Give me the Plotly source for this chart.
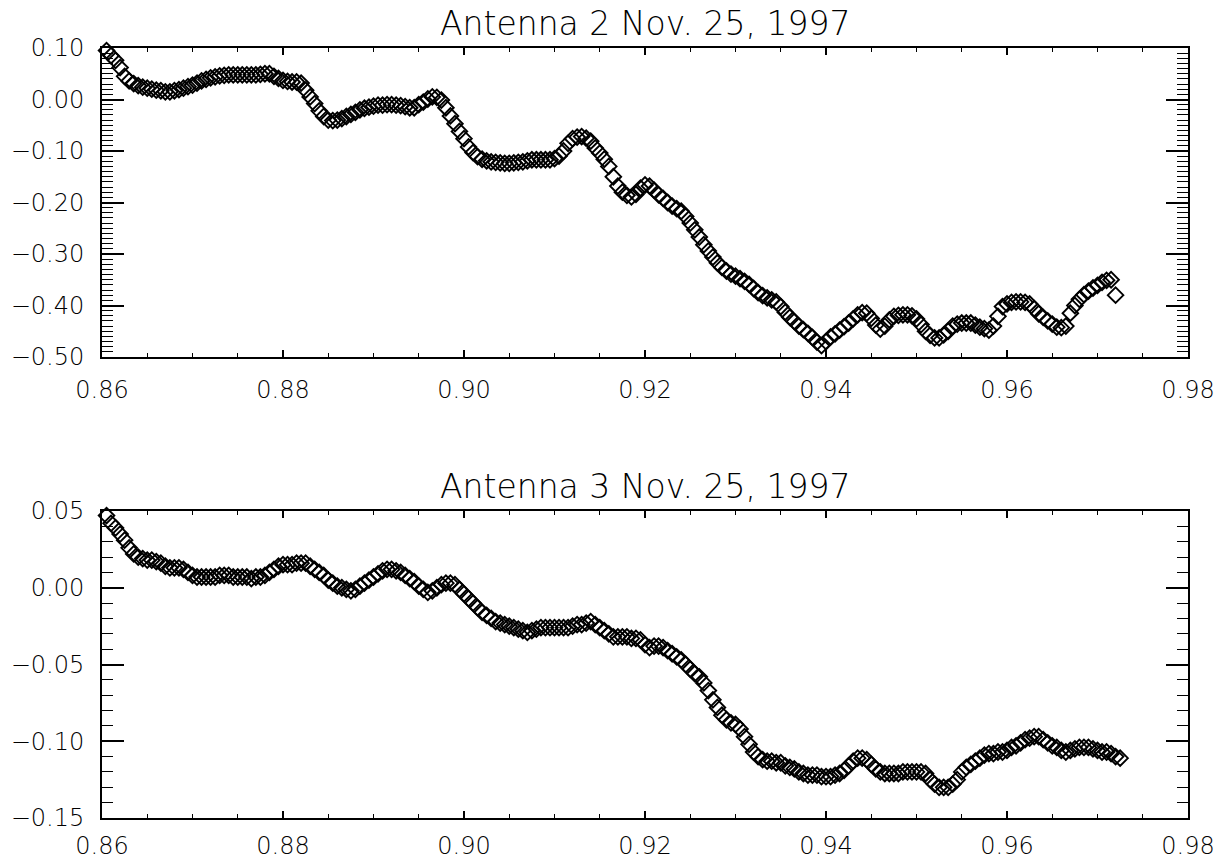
import numpy as np
import plotly.graph_objects as go

# ---- data ----
X_START = 0.8605
X_STEP = 0.0005

antenna2 = [
    0.095, 0.085, 0.076, 0.062, 0.045, 0.036, 0.031, 0.027, 0.024, 0.022,
    0.020, 0.018, 0.017, 0.015, 0.015, 0.017, 0.019, 0.022, 0.025, 0.028,
    0.032, 0.036, 0.039, 0.042, 0.044, 0.046, 0.047, 0.048, 0.048, 0.048,
    0.048, 0.048, 0.048, 0.048, 0.049, 0.050, 0.050, 0.045, 0.041, 0.037,
    0.035, 0.034, 0.034, 0.032, 0.018, 0.005, -0.008, -0.022, -0.033, -0.040,
    -0.041, -0.040, -0.037, -0.033, -0.029, -0.025, -0.020, -0.017, -0.015, -0.013,
    -0.011, -0.011, -0.010, -0.010, -0.011, -0.012, -0.014, -0.016, -0.016, -0.010,
    -0.005, 0.001, 0.005, 0.004, -0.001, -0.016, -0.032, -0.047, -0.062, -0.076,
    -0.092, -0.103, -0.111, -0.116, -0.119, -0.121, -0.122, -0.123, -0.124, -0.124,
    -0.123, -0.122, -0.121, -0.119, -0.117, -0.117, -0.117, -0.117, -0.117, -0.115,
    -0.110, -0.100, -0.085, -0.076, -0.073, -0.072, -0.075, -0.081, -0.094, -0.104,
    -0.116, -0.130, -0.150, -0.168, -0.180, -0.186, -0.189, -0.184, -0.172, -0.166,
    -0.168, -0.176, -0.185, -0.192, -0.200, -0.207, -0.212, -0.217, -0.227, -0.240,
    -0.253, -0.267, -0.282, -0.294, -0.306, -0.317, -0.326, -0.333, -0.339, -0.343,
    -0.348, -0.353, -0.359, -0.367, -0.375, -0.381, -0.385, -0.389, -0.393, -0.402,
    -0.413, -0.423, -0.431, -0.440, -0.447, -0.454, -0.462, -0.471, -0.478, -0.470,
    -0.461, -0.455, -0.448, -0.441, -0.434, -0.426, -0.418, -0.414, -0.415, -0.425,
    -0.438, -0.446, -0.440, -0.428, -0.421, -0.419, -0.418, -0.418, -0.420, -0.426,
    -0.437, -0.450, -0.458, -0.463, -0.463, -0.457, -0.450, -0.440, -0.436, -0.434,
    -0.434, -0.434, -0.438, -0.442, -0.445, -0.448, -0.440, -0.421, -0.402, -0.397,
    -0.394, -0.393, -0.393, -0.394, -0.397, -0.406, -0.416, -0.423, -0.430, -0.436,
    -0.442, -0.443, -0.440, -0.415, -0.400, -0.388, -0.379, -0.372, -0.366, -0.361,
    -0.355, -0.351, -0.350, -0.380,
]

antenna3 = [
    0.047, 0.042, 0.039, 0.035, 0.031, 0.026, 0.022, 0.020, 0.019, 0.018,
    0.018, 0.017, 0.016, 0.014, 0.013, 0.013, 0.013, 0.012, 0.010, 0.008,
    0.007, 0.007, 0.007, 0.007, 0.007, 0.008, 0.008, 0.008, 0.007, 0.007,
    0.007, 0.007, 0.006, 0.007, 0.007, 0.008, 0.010, 0.012, 0.014, 0.015,
    0.015, 0.015, 0.016, 0.016, 0.016, 0.014, 0.012, 0.010, 0.008, 0.005,
    0.003, 0.001, 0.000, -0.001, -0.002, -0.001, 0.001, 0.003, 0.005, 0.007,
    0.009, 0.011, 0.012, 0.012, 0.011, 0.010, 0.008, 0.006, 0.004, 0.001,
    -0.001, -0.003, -0.002, 0.000, 0.002, 0.003, 0.003, 0.002, -0.001, -0.004,
    -0.007, -0.010, -0.013, -0.016, -0.018, -0.020, -0.022, -0.023, -0.024, -0.025,
    -0.026, -0.027, -0.028, -0.029, -0.028, -0.027, -0.026, -0.026, -0.026, -0.026,
    -0.026, -0.026, -0.026, -0.025, -0.024, -0.024, -0.023, -0.022, -0.024, -0.026,
    -0.028, -0.030, -0.032, -0.032, -0.032, -0.032, -0.033, -0.033, -0.034, -0.037,
    -0.039, -0.038, -0.038, -0.039, -0.041, -0.043, -0.045, -0.047, -0.050, -0.053,
    -0.056, -0.058, -0.062, -0.067, -0.073, -0.078, -0.083, -0.086, -0.088, -0.089,
    -0.092, -0.097, -0.102, -0.107, -0.110, -0.112, -0.113, -0.113, -0.114, -0.114,
    -0.116, -0.117, -0.118, -0.120, -0.121, -0.122, -0.122, -0.122, -0.123, -0.123,
    -0.123, -0.122, -0.121, -0.119, -0.116, -0.113, -0.111, -0.111, -0.112, -0.115,
    -0.118, -0.120, -0.121, -0.121, -0.121, -0.121, -0.120, -0.120, -0.120, -0.120,
    -0.120, -0.121, -0.125, -0.128, -0.130, -0.130, -0.130, -0.128, -0.125, -0.120,
    -0.117, -0.115, -0.113, -0.111, -0.109, -0.108, -0.108, -0.107, -0.107, -0.106,
    -0.104, -0.103, -0.101, -0.099, -0.098, -0.097, -0.097, -0.099, -0.101, -0.103,
    -0.104, -0.106, -0.107, -0.106, -0.105, -0.104, -0.104, -0.104, -0.105, -0.106,
    -0.107, -0.107, -0.108, -0.110, -0.111,
]

x_ticks = [0.86, 0.88, 0.90, 0.92, 0.94, 0.96, 0.98]
y_ticks_top = [0.10, 0.00, -0.10, -0.20, -0.30, -0.40, -0.50]
y_ticks_bottom = [0.05, 0.00, -0.05, -0.10, -0.15]
titles = ["Antenna 2 Nov. 25, 1997", "Antenna 3 Nov. 25, 1997"]

x_top = np.round(X_START + X_STEP * np.arange(len(antenna2)), 4)
x_bot = np.round(X_START + X_STEP * np.arange(len(antenna3)), 4)

FONT = "DejaVu Sans"
tickfont = dict(family=FONT, size=24, color="black", weight=300)
titlefont = dict(family=FONT, size=33, color="black", weight=300)

marker = dict(symbol="diamond-open", size=12, color="black",
              line=dict(width=1.9, color="black"))

fig = go.Figure()
fig.add_trace(go.Scatter(x=x_top, y=antenna2, mode="markers", marker=marker,
                         xaxis="x", yaxis="y", cliponaxis=False, showlegend=False,
                         hoverinfo="skip"))
fig.add_trace(go.Scatter(x=x_bot, y=antenna3, mode="markers", marker=marker,
                         xaxis="x2", yaxis="y2", cliponaxis=False, showlegend=False,
                         hoverinfo="skip"))

def xaxis(anchor, standoff):
    return dict(
        range=[0.86, 0.98], tickvals=x_ticks, tickformat=".2f",
        ticks="inside", ticklen=7, tickwidth=1.5, tickcolor="black",
        showline=True, linewidth=2, linecolor="black", mirror="allticks",
        showgrid=False, zeroline=False, automargin=False,
        tickfont=tickfont, ticklabelstandoff=standoff,
        minor=dict(ticks="inside", dtick=0.005, ticklen=4, tickwidth=1.2,
                   tickcolor="black", showgrid=False),
        anchor=anchor,
    )

def yaxis(rng, tv, minor_dtick, domain, anchor):
    return dict(
        range=rng, tickvals=tv, tickformat=".2f", domain=domain,
        ticks="inside", ticklen=22, tickwidth=1.5, tickcolor="black",
        showline=True, linewidth=2, linecolor="black", mirror="allticks",
        showgrid=False, zeroline=False, automargin=False,
        tickfont=tickfont, ticklabelstandoff=11,
        minor=dict(ticks="inside", dtick=minor_dtick, ticklen=11, tickwidth=1.2,
                   tickcolor="black", showgrid=False),
        anchor=anchor,
    )

plot_h = 863 - 48 - 45
top_dom = [1 - 309 / plot_h, 1.0]
bot_dom = [0.0, 307 / plot_h]

fig.update_layout(
    width=1226, height=863,
    margin=dict(l=102, r=38, t=48, b=45, autoexpand=False),
    paper_bgcolor="white", plot_bgcolor="white",
    template="none", hovermode=False,
    xaxis=xaxis("y", 10),
    yaxis=yaxis([-0.5, 0.1], y_ticks_top, 0.01, top_dom, "x"),
    xaxis2=xaxis("y2", 5),
    yaxis2=yaxis([-0.15, 0.05], y_ticks_bottom, 0.01, bot_dom, "x2"),
    annotations=[
        dict(text=titles[0], xref="x domain", yref="y domain", x=0.5, y=1,
             yanchor="bottom", yshift=3, showarrow=False, font=titlefont),
        dict(text=titles[1], xref="x2 domain", yref="y2 domain", x=0.5, y=1,
             yanchor="bottom", yshift=3, showarrow=False, font=titlefont),
    ],
)

fig.write_html("out.html", config={"displayModeBar": False},
               post_script="document.body.style.margin='0';document.body.style.overflow='hidden';")
